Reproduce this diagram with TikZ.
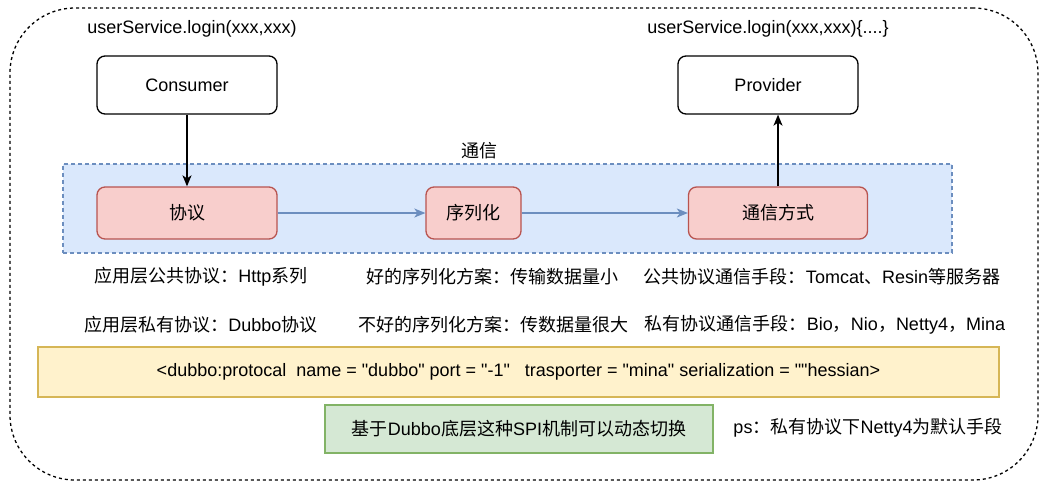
\documentclass[tikz,border=0pt]{standalone}
\usepackage{fontspec}
\setmainfont{Liberation Sans}
\newfontfamily\cfgfont{Liberation Sans}
\newfontfamily\cjk{Noto Sans CJK SC}
\usetikzlibrary{arrows.meta}
\newcommand\zh[1]{{\cjk #1}}
\definecolor{blueFill}{HTML}{DAE8FC}
\definecolor{blueLine}{HTML}{6C8EBF}
\definecolor{redFill}{HTML}{F8CECC}
\definecolor{redLine}{HTML}{B85450}
\definecolor{yellowFill}{HTML}{FFF2CC}
\definecolor{yellowLine}{HTML}{D6B656}
\definecolor{greenFill}{HTML}{D5E8D4}
\definecolor{greenLine}{HTML}{82B366}
\begin{document}
\begin{tikzpicture}[x=1pt,y=-1pt,
  every node/.style={font=\fontsize{18}{22}\selectfont},
  box/.style={draw=black, line width=1.3pt, rounded corners=8pt, minimum width=180pt, minimum height=58pt, inner sep=0pt, fill=white},
  redbox/.style={draw=redLine, fill=redFill, line width=1.3pt, rounded corners=8pt, minimum height=52pt, inner sep=0pt},
  lbl/.style={inner sep=0pt, anchor=center},
  arr/.style={-{Stealth[length=11pt,width=9pt,inset=3pt]}, line width=1.3pt},
  barr/.style={arr, draw=blueLine},
  outerbox/.style={draw=black, line width=1.3pt, dash pattern=on 3pt off 3pt, rounded corners=65pt, minimum width=1028pt, minimum height=472pt, inner sep=0pt},
  groupbox/.style={draw=blueLine, fill=blueFill, line width=1.2pt, dash pattern=on 4pt off 3pt, minimum width=889pt, minimum height=89pt, inner sep=0pt},
  notebox/.style={line width=1.3pt, inner sep=0pt}
]
\useasboundingbox (0,0) rectangle (1049,488);
\node[outerbox] (outer) at (524,244) {};
\node[groupbox] (comm) at (507.5,208.5) {};
\node[lbl] (commlbl) at (479,151) {\zh{通信}};

\node[lbl] (t1) at (192,29) {userService.login(xxx,xxx)};
\node[lbl] (t2) at (768,29) {userService.login(xxx,xxx)\{....\}};
\node[box] (consumer) at (187,85) {Consumer};
\node[box] (provider) at (768,85) {Provider};

\node[redbox, minimum width=180pt] (xieyi) at (187,213) {\zh{协议}};
\node[redbox, minimum width=95pt] (xlh) at (473.5,213) {\zh{序列化}};
\node[redbox, minimum width=179pt] (txfs) at (778,213) {\zh{通信方式}};

\draw[arr] (consumer.south) -- (xieyi.north);
\draw[barr] (xieyi.east) -- (xlh.west);
\draw[barr] (xlh.east) -- (txfs.west);
\draw[arr] (txfs.north) -- (txfs.north |- provider.south);

\node[lbl] (r1a) at (201,277) {\zh{应用层公共协议：}Http\zh{系列}};
\node[lbl] (r1b) at (492,277) {\zh{好的序列化方案：传输数据量小}};
\node[lbl] (r1c) at (822,277) {\zh{公共协议通信手段：}Tomcat\zh{、}Resin\zh{等服务器}};
\node[lbl] (r2a) at (201,325) {\zh{应用层私有协议：}Dubbo\zh{协议}};
\node[lbl] (r2b) at (493.5,325) {\zh{不好的序列化方案：传数据量很大}};
\node[lbl] (r2c) at (825,325) {\zh{私有协议通信手段：}Bio\zh{，}Nio\zh{，}Netty4\zh{，}Mina};

\node[notebox, draw=yellowLine, fill=yellowFill, minimum width=961pt, minimum height=50pt] (cfg) at (518.5,372) {\cfgfont <dubbo:protocal~ name = "dubbo" port = "-1"~~ trasporter = "mina" serialization = ""hessian>};
\node[notebox, draw=greenLine, fill=greenFill, minimum width=388pt, minimum height=48pt] (spi) at (519,429) {\zh{基于}Dubbo\zh{底层这种}SPI\zh{机制可以动态切换}};
\node[lbl] (ps) at (868,428) {ps\zh{：私有协议下}Netty4\zh{为默认手段}};
\end{tikzpicture}
\end{document}
